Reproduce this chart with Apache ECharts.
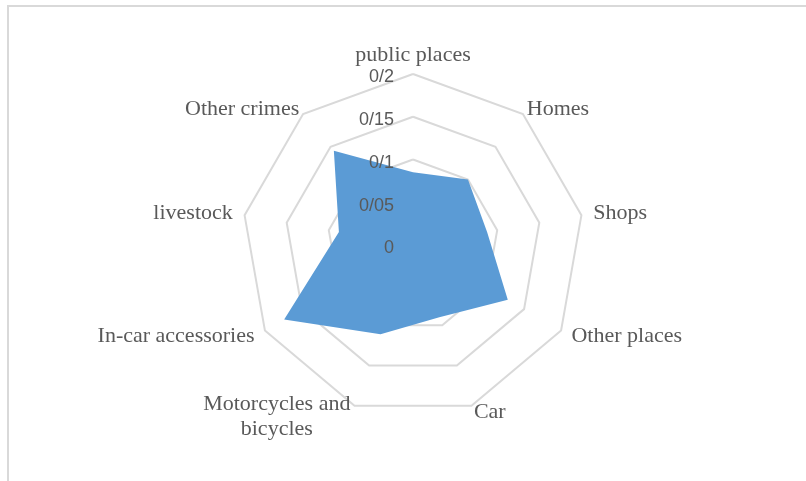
<!DOCTYPE html>
<html>
<head>
<meta charset="utf-8">
<script src="https://cdn.jsdelivr.net/npm/echarts@6/dist/echarts.min.js"></script>
<style>
html,body{margin:0;padding:0;background:#fff;}
#c{width:806px;height:481px;}
</style>
</head>
<body>
<div id="c"></div>
<script>
// listed clockwise from the top
const categories = ['public places', 'Homes', 'Shops', 'Other places', 'Car', 'Motorcycles and\nbicycles', 'In-car accessories', 'livestock', 'Other crimes'];
const values = [0.085, 0.1, 0.088, 0.128, 0.09, 0.111, 0.174, 0.088, 0.144];
const tickLabels = ['0', '0/05', '0/1', '0/15', '0/2'];
const axisMax = 0.2;

// ECharts lays indicators out counter-clockwise; reorder so they run clockwise
const order = [0].concat(categories.map(function (_, i) { return i; }).slice(1).reverse());
const cats = order.map(function (i) { return categories[i]; });
const vals = order.map(function (i) { return values[i]; });
const gaps = {'public places': 6, 'Homes': 6, 'Other crimes': 6, 'Car': 7};

const common = {
  center: [413, 245],
  radius: 171,
  startAngle: 90,
  splitNumber: 4,
  shape: 'polygon'
};

const chart = echarts.init(document.getElementById('c'), null, {renderer: 'canvas'});
chart.setOption({
  animation: false,
  backgroundColor: '#fff',
  graphic: [{
    type: 'rect',
    shape: {x: 8, y: 6, width: 900, height: 600},
    style: {fill: 'none', stroke: '#d9d9d9', lineWidth: 2},
    silent: true
  }],
  radar: [
    Object.assign({}, common, {
      z: 1,
      axisName: {
        color: '#595959',
        fontFamily: 'Liberation Serif',
        fontSize: 22,
        formatter: function (name) {
          return name.split('\n').map(function (s) { return '{c|' + s + '}'; }).join('\n');
        },
        rich: {
          c: {align: 'center', color: '#595959', fontFamily: 'Liberation Serif', fontSize: 22, lineHeight: 25}
        }
      },
      nameGap: 12,
      axisLine: {show: false},
      axisTick: {show: false},
      splitArea: {show: false},
      splitLine: {lineStyle: {color: '#d9d9d9', width: 2}},
      axisLabel: {show: false},
      indicator: cats.map(function (n) {
        const ind = {name: n, min: 0, max: axisMax};
        if (gaps[n] != null) ind.nameGap = gaps[n];
        return ind;
      })
    }),
    Object.assign({}, common, {
      z: 5,
      axisName: {show: false},
      axisLine: {show: false},
      axisTick: {show: false},
      splitArea: {show: false},
      splitLine: {show: false},
      axisLabel: {
        show: true,
        color: '#595959',
        fontFamily: 'Liberation Sans',
        fontSize: 18,
        margin: 19,
        verticalAlign: 'top',
        lineHeight: 7,
        showMinLabel: true,
        showMaxLabel: true,
        formatter: function (v, i) { return tickLabels[i]; }
      },
      indicator: cats.map(function (n, i) {
        const ind = {name: n, min: 0, max: axisMax};
        if (i > 0) ind.axisLabel = {show: false};
        return ind;
      })
    })
  ],
  series: [{
    type: 'radar',
    radarIndex: 0,
    z: 2,
    symbol: 'none',
    lineStyle: {width: 0, color: '#5b9bd5'},
    areaStyle: {color: '#5b9bd5', opacity: 1},
    itemStyle: {color: '#5b9bd5'},
    data: [{value: vals, name: 'values'}]
  }]
});
</script>
</body>
</html>
